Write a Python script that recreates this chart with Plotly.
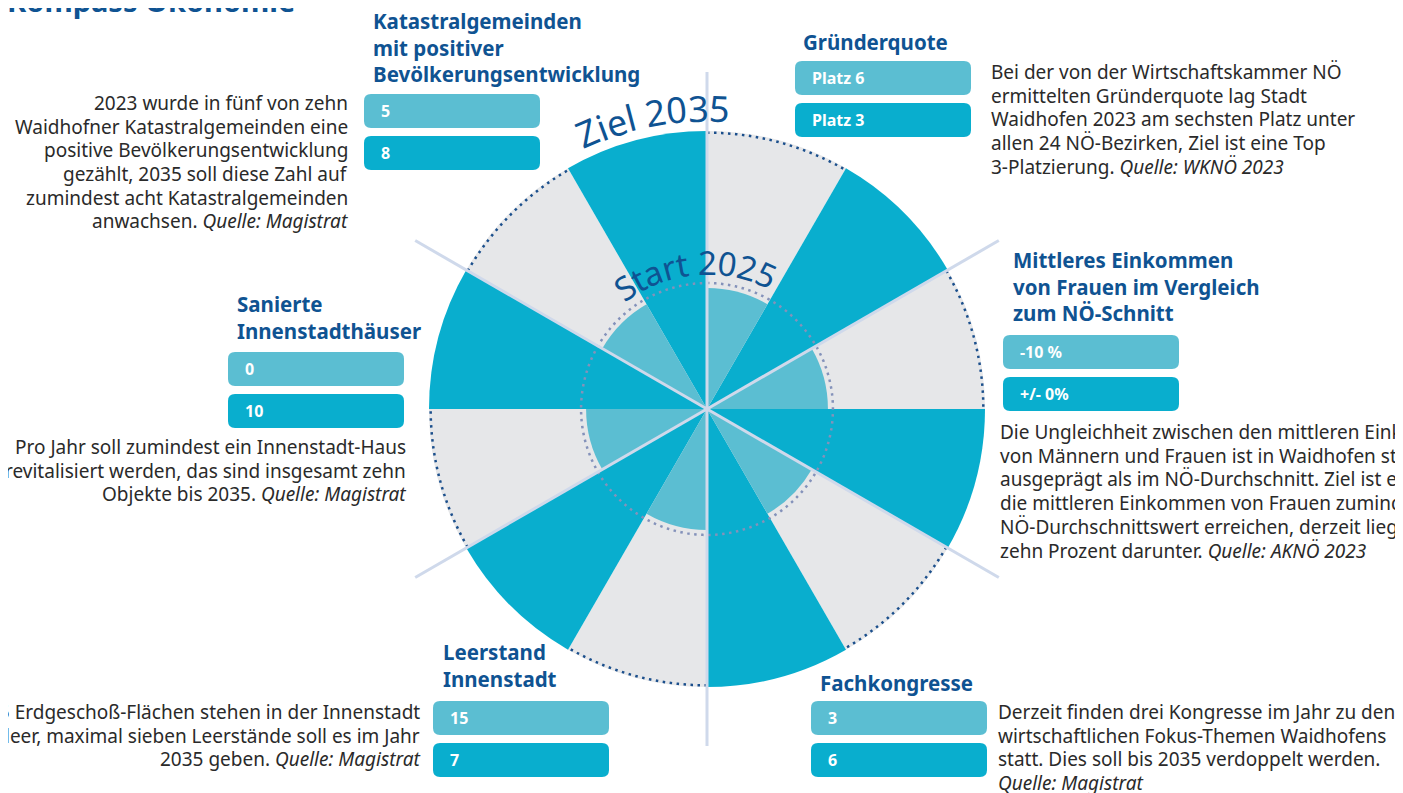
"""Kompass Ökonomie — Start 2025 vs. Ziel 2035 als Polar-Kompass."""

import math

import plotly.graph_objects as go

W, H = 1403, 793
OX, OY = 8, 8              # Seitenrand des Browsers (body margin)
CX, CY = 707, 409          # Mittelpunkt des Kompasses (px im Bild)
R_PX = 340                 # Radius der Polar-Domain (px)
R_MAX = 122.3              # Radialachse: Ziel 2035 = 100

# --- Daten ---------------------------------------------------------------
KATEGORIEN = [
    "Gründerquote",
    "Mittleres Einkommen<br>von Frauen im Vergleich<br>zum NÖ-Schnitt",
    "Fachkongresse",
    "Leerstand<br>Innenstadt",
    "Sanierte<br>Innenstadthäuser",
    "Katastralgemeinden<br>mit positiver<br>Bevölkerungsentwicklung",
]
START_2025 = ["Platz 6", "-10 %", "3", "15", "0", "5"]
ZIEL_2035 = ["Platz 3", "+/- 0%", "6", "7", "10", "8"]
# Erreichungsgrad relativ zum Ziel (Ziel = 100)
START_NIVEAU = [43.5, 43.5, 43.5, 43.5, 43.5, 43.5]
ZIEL_NIVEAU = [100, 100, 100, 100, 100, 100]
BESCHREIBUNG = [
    ["Bei der von der Wirtschaftskammer NÖ", "ermittelten Gründerquote lag Stadt",
     "Waidhofen 2023 am sechsten Platz unter", "allen 24 NÖ-Bezirken, Ziel ist eine Top",
     "3-Platzierung. <i>Quelle: WKNÖ 2023</i>"],
    ["Die Ungleichheit zwischen den mittleren Einkommen",
     "von Männern und Frauen ist in Waidhofen stärker",
     "ausgeprägt als im NÖ-Durchschnitt. Ziel ist es,",
     "die mittleren Einkommen von Frauen zumindest auf",
     "NÖ-Durchschnittswert erreichen, derzeit liegen sie",
     "zehn Prozent darunter. <i>Quelle: AKNÖ 2023</i>"],
    ["Derzeit finden drei Kongresse im Jahr zu den", "wirtschaftlichen Fokus-Themen Waidhofens",
     "statt. Dies soll bis 2035 verdoppelt werden.", "<i>Quelle: Magistrat</i>"],
    ["15 Erdgeschoß-Flächen stehen in der Innenstadt",
     "leer, maximal sieben Leerstände soll es im Jahr",
     "2035 geben. <i>Quelle: Magistrat</i>"],
    ["Pro Jahr soll zumindest ein Innenstadt-Haus", "revitalisiert werden, das sind insgesamt zehn",
     "Objekte bis 2035. <i>Quelle: Magistrat</i>"],
    ["2023 wurde in fünf von zehn", "Waidhofner Katastralgemeinden eine",
     "positive Bevölkerungsentwicklung", "gezählt, 2035 soll diese Zahl auf",
     "zumindest acht Katastralgemeinden", "anwachsen. <i>Quelle: Magistrat</i>"],
]

# --- Stil ----------------------------------------------------------------
HELL = "#5bbed2"
DUNKEL = "#09aece"
GRAU = "#e6e7e9"
TITELBLAU = "#0f5392"
TEXT = "#2a2a2a"
LINIE = "#cfd9eb"
FONT = "Noto Sans"
ZEILE = 23.7               # Zeilenabstand Fließtext (px)

# Position je Kategorie: Titel (x links, y Mitte), Boxen (x links, y oben),
# Text (x, y der ersten Zeile, Ausrichtung)
LAYOUT_POS = [
    dict(tx=801, ty=42, bx=795, by=61, dx=990, dy=72, al="left"),
    dict(tx=1011, ty=287, bx=1003, by=335, dx=999, dy=432, al="left"),
    dict(tx=818, ty=683, bx=811, by=701, dx=997, dy=712, al="left"),
    dict(tx=441, ty=665, bx=433, by=701, dx=421, dy=712, al="right"),
    dict(tx=235, ty=318, bx=228, by=352, dx=407, dy=447, al="right"),
    dict(tx=371, ty=47, bx=364, by=94, dx=349, dy=103, al="right"),
]
BOX_W, BOX_H, BOX_GAP = 176, 34, 8


def paper(x, y):
    return (x - OX) / W, 1 - (y - OY) / H


def rounded_box(x0, y0, x1, y1, r=7):
    pts = [
        ("M", x0 + r, y0), ("L", x1 - r, y0), ("Q", x1, y0, x1, y0 + r),
        ("L", x1, y1 - r), ("Q", x1, y1, x1 - r, y1), ("L", x0 + r, y1),
        ("Q", x0, y1, x0, y1 - r), ("L", x0, y0 + r), ("Q", x0, y0, x0 + r, y0),
    ]
    out = []
    for p in pts:
        coords = []
        for i in range(1, len(p), 2):
            px, py = paper(p[i], p[i + 1])
            coords.append(f"{px:.5f},{py:.5f}")
        out.append(p[0] + " " + " ".join(coords))
    return " ".join(out) + " Z"


# grobe Laufweiten (em) für den Bogentext
GLYPH_W = {"Z": 0.56, "i": 0.26, "e": 0.56, "l": 0.26, " ": 0.26, "S": 0.53,
           "t": 0.35, "a": 0.56, "r": 0.39}


def arc_text(text, theta_c, r_base, size):
    """Text entlang eines Kreisbogens, Buchstabe für Buchstabe."""
    widths = [GLYPH_W.get(ch, 0.57) * size for ch in text]
    s = -sum(widths) / 2
    anns = []
    for ch, w in zip(text, widths):
        mid = s + w / 2
        ang = theta_c + math.degrees(mid / r_base)
        r = r_base + 0.33 * size
        x = CX + r * math.sin(math.radians(ang))
        y = CY - r * math.cos(math.radians(ang))
        px, py = paper(x, y)
        anns.append(dict(
            text=ch, x=px, y=py, xref="paper", yref="paper", showarrow=False,
            xanchor="center", yanchor="middle", textangle=ang, borderpad=0,
            font=dict(family=FONT, size=size, color=TITELBLAU),
        ))
        s += w
    return anns


n = len(KATEGORIEN)
theta_start = [i * 60 + 15 for i in range(n)]
theta_ziel = [i * 60 + 45 for i in range(n)]

fig = go.Figure()
fig.add_trace(go.Barpolar(
    r=ZIEL_NIVEAU, theta=theta_start, width=30, marker_color=GRAU,
    marker_line_width=0, hoverinfo="skip",
))
fig.add_trace(go.Barpolar(
    r=ZIEL_NIVEAU, theta=theta_ziel, width=30, marker_color=DUNKEL,
    marker_line_width=0, name="Ziel 2035",
    customdata=ZIEL_2035, hovertemplate="Ziel 2035: %{customdata}<extra></extra>",
))
fig.add_trace(go.Barpolar(
    r=START_NIVEAU, theta=theta_start, width=30, marker_color=HELL,
    marker_line_width=0, name="Start 2025",
    customdata=START_2025, hovertemplate="Start 2025: %{customdata}<extra></extra>",
))

# äußerer Zielring nur über den grauen Segmenten sichtbar
ring_t, ring_r = [], []
for t0 in theta_start:
    for k in range(31):
        ring_t.append(t0 - 15 + k)
        ring_r.append(99.4)
    ring_t.append(None)
    ring_r.append(None)
fig.add_trace(go.Scatterpolar(
    r=ring_r, theta=ring_t, mode="lines", hoverinfo="skip",
    line=dict(color="#1b4f8c", width=2.5, dash="2.5px,4.5px"),
))
# innerer Startring
fig.add_trace(go.Scatterpolar(
    r=[45.3] * 361, theta=list(range(361)), mode="lines", hoverinfo="skip",
    line=dict(color="#8492ba", width=2.5, dash="2.5px,4.5px"),
))
# Trennlinien zwischen den Kategorien
sep_t, sep_r = [], []
for i in range(n):
    sep_t += [i * 60, i * 60, None]
    sep_r += [0, 121.2, None]
fig.add_trace(go.Scatterpolar(
    r=sep_r, theta=sep_t, mode="lines", hoverinfo="skip",
    line=dict(color=LINIE, width=3),
))

annotations = []
shapes = []
for i, pos in enumerate(LAYOUT_POS):
    x, y = paper(pos["tx"], pos["ty"])
    annotations.append(dict(
        text=f"<b>{KATEGORIEN[i]}</b>", x=x, y=y, xref="paper", yref="paper",
        xanchor="left", yanchor="middle", align="left", showarrow=False,
        font=dict(family=FONT, size=20.5, color=TITELBLAU),
    ))
    for j, (label, col) in enumerate([(START_2025[i], HELL), (ZIEL_2035[i], DUNKEL)]):
        y0 = pos["by"] + j * (BOX_H + BOX_GAP)
        shapes.append(dict(
            type="path", xref="paper", yref="paper", line_width=0, fillcolor=col,
            path=rounded_box(pos["bx"], y0, pos["bx"] + BOX_W, y0 + BOX_H),
        ))
        lx, ly = paper(pos["bx"] + 15, y0 + BOX_H / 2)
        annotations.append(dict(
            text=f"<b>{label}</b>", x=lx, y=ly, xref="paper", yref="paper",
            xanchor="left", yanchor="middle", showarrow=False,
            font=dict(family=FONT, size=16, color="white"),
        ))
    for k, zeile in enumerate(BESCHREIBUNG[i]):
        dx, dy = paper(pos["dx"], pos["dy"] + k * ZEILE)
        annotations.append(dict(
            text=zeile, x=dx, y=dy, xref="paper", yref="paper", borderpad=0,
            xanchor=pos["al"], yanchor="middle", showarrow=False,
            font=dict(family=FONT, size=19, color=TEXT),
        ))

annotations += arc_text("Ziel 2035", -10.5, 289, 36)
annotations += arc_text("Start 2025", -5, 136, 33)

tx, ty = paper(5, 1)
annotations.append(dict(
    text="<b>Kompass Ökonomie</b>", x=tx, y=ty, xref="paper", yref="paper",
    xanchor="left", yanchor="middle", showarrow=False,
    font=dict(family=FONT, size=29, color=TITELBLAU),
))

dom_x0, dom_y0 = paper(CX - R_PX, CY + R_PX)
dom_x1, dom_y1 = paper(CX + R_PX, CY - R_PX)
fig.update_layout(
    width=W, height=H, margin=dict(l=0, r=0, t=0, b=0),
    paper_bgcolor="white", showlegend=False,
    polar=dict(
        domain=dict(x=[dom_x0, dom_x1], y=[dom_y0, dom_y1]),
        bgcolor="rgba(0,0,0,0)", bargap=0, barmode="overlay",
        angularaxis=dict(rotation=90, direction="clockwise", visible=False),
        radialaxis=dict(range=[0, R_MAX], visible=False),
    ),
    annotations=annotations, shapes=shapes,
)
fig.write_html("out.html")
